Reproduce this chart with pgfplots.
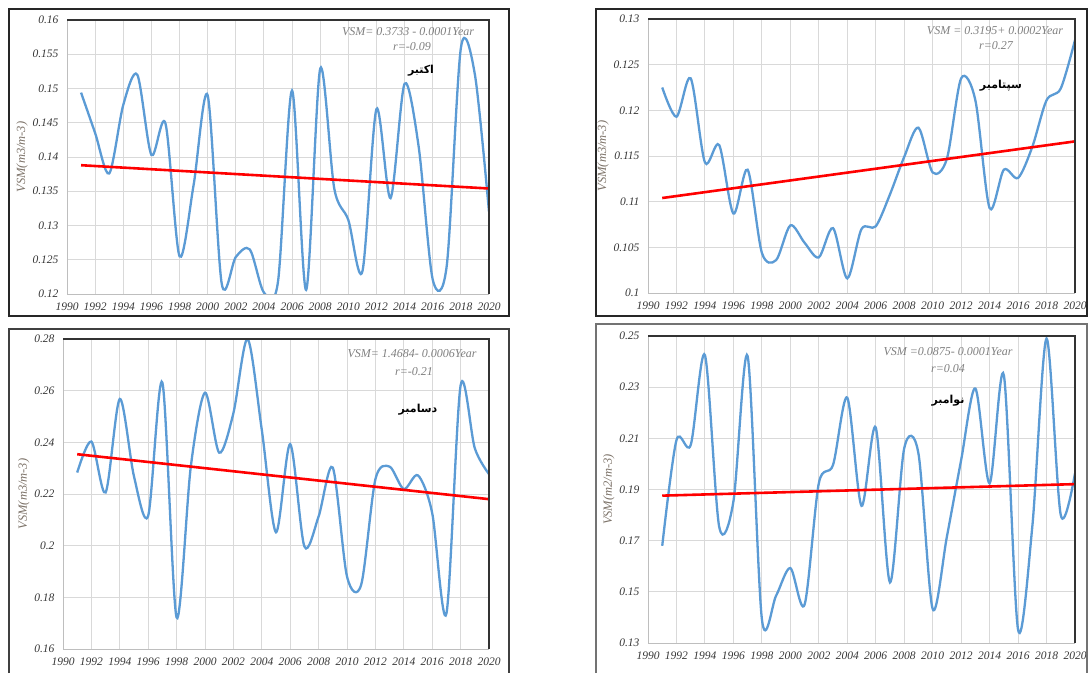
\documentclass[border=0pt]{standalone}
\usepackage{fontspec}
\setmainfont{Liberation Serif}
\newfontfamily\arabicfont[Script=Arabic]{DejaVu Sans}
\TeXXeTstate=1
\usepackage{pgfplots}
\pgfplotsset{compat=1.18}
\definecolor{gridc}{RGB}{217,217,217}
\definecolor{tickc}{RGB}{55,55,55}
\definecolor{labc}{RGB}{125,115,105}
\definecolor{annc}{RGB}{128,128,128}
\definecolor{bluec}{RGB}{91,155,213}
\definecolor{redc}{RGB}{255,0,0}
\pgfplotsset{panel/.style={
  scale only axis, xmin=1990, xmax=2020, xtick={1990,1992,...,2020},
  grid=major, major grid style={draw=gridc, line width=0.9pt},
  axis line style={draw=none}, tick style={draw=none},
  ticklabel style={font=\itshape\fontsize{11.5}{13}\selectfont, text=tickc},
  /pgf/number format/assume math mode=true,
  /pgf/number format/1000 sep={},
  yticklabel style={/pgf/number format/fixed, /pgf/number format/precision=3, xshift=-5pt},
  xticklabel style={/pgf/number format/1000 sep={}, yshift=-5pt},
  ylabel={VSM(m3/m-3)},
  ylabel style={font=\itshape\fontsize{12.5}{14}\selectfont, text=labc, yshift=-2pt},
  anchor=south west,
}}
\pgfplotsset{vsm/.style={color=bluec, line width=2.3pt, smooth, tension=0.5, no marks},
  trend/.style={color=redc, line width=2.6pt, no marks}}
\newcommand{\ann}{\itshape\fontsize{12}{14}\selectfont\color{annc}}
\newcommand{\mon}[1]{\arabicfont\bfseries\fontsize{11}{13}\selectfont\beginR #1\endR}
\begin{document}
\begin{tikzpicture}
\useasboundingbox[fill=white] (0pt,0pt) rectangle (1089pt,673pt);
% Panel 1: October
\begin{axis}[panel, name=a1, at={(67pt,379pt)}, width=422pt, height=274pt,
  ymin=0.12, ymax=0.16, ytick={0.12,0.125,0.13,0.135,0.14,0.145,0.15,0.155,0.16}]
\addplot[vsm] coordinates {(1991,0.1494)(1992,0.1435)(1993,0.1376)(1994,0.1476)(1995,0.1520)(1996,0.1403)(1997,0.1449)(1998,0.1255)(1999,0.1359)(2000,0.1490)(2001,0.1215)(2002,0.1254)(2003,0.1265)(2004,0.1202)(2005,0.1218)(2006,0.1497)(2007,0.1206)(2008,0.1529)(2009,0.1354)(2010,0.1308)(2011,0.1233)(2012,0.1470)(2013,0.1340)(2014,0.1507)(2015,0.1415)(2016,0.1221)(2017,0.1242)(2018,0.1559)(2019,0.1520)(2020,0.1320)};
\addplot[trend] coordinates {(1991,0.1388)(2020,0.1354)};
\end{axis}
% Panel 2: September
\begin{axis}[panel, name=a2, at={(648pt,380pt)}, width=427pt, height=274pt,
  ymin=0.1, ymax=0.13, ytick={0.1,0.105,0.11,0.115,0.12,0.125,0.13}]
\addplot[vsm] coordinates {(1991,0.1225)(1992,0.1193)(1993,0.1235)(1994,0.1143)(1995,0.1162)(1996,0.1087)(1997,0.1135)(1998,0.1044)(1999,0.1036)(2000,0.1074)(2001,0.1055)(2002,0.1039)(2003,0.1071)(2004,0.1016)(2005,0.1070)(2006,0.1073)(2007,0.1108)(2008,0.1149)(2009,0.1181)(2010,0.1132)(2011,0.1147)(2012,0.1235)(2013,0.1211)(2014,0.1093)(2015,0.1135)(2016,0.1126)(2017,0.1160)(2018,0.1211)(2019,0.1224)(2020,0.1277)};
\addplot[trend] coordinates {(1991,0.1104)(2020,0.1166)};
\end{axis}
% Panel 3: December
\begin{axis}[panel, name=a3, at={(63pt,24pt)}, width=426pt, height=310pt,
  ymin=0.16, ymax=0.28, ytick={0.16,0.18,0.2,0.22,0.24,0.26,0.28}]
\addplot[vsm] coordinates {(1991,0.2283)(1992,0.2403)(1993,0.2206)(1994,0.2568)(1995,0.2268)(1996,0.2116)(1997,0.2631)(1998,0.1722)(1999,0.2306)(2000,0.2592)(2001,0.2360)(2002,0.2513)(2003,0.2800)(2004,0.2448)(2005,0.2052)(2006,0.2393)(2007,0.1997)(2008,0.2113)(2009,0.2302)(2010,0.1881)(2011,0.1849)(2012,0.2257)(2013,0.2306)(2014,0.2219)(2015,0.2272)(2016,0.2126)(2017,0.1737)(2018,0.2620)(2019,0.2377)(2020,0.2277)};
\addplot[trend] coordinates {(1991,0.2354)(2020,0.2180)};
\end{axis}
% Panel 4: November
\begin{axis}[panel, name=a4, at={(648pt,30pt)}, width=427pt, height=307pt,
  ymin=0.13, ymax=0.25, ytick={0.13,0.15,0.17,0.19,0.21,0.23,0.25},
  ylabel={VSM(m2/m-3)}]
\addplot[vsm] coordinates {(1991,0.1680)(1992,0.2093)(1993,0.2074)(1994,0.2425)(1995,0.1755)(1996,0.1853)(1997,0.2421)(1998,0.1394)(1999,0.1485)(2000,0.1593)(2001,0.1450)(2002,0.1924)(2003,0.1996)(2004,0.2259)(2005,0.1836)(2006,0.2142)(2007,0.1537)(2008,0.2061)(2009,0.2041)(2010,0.1433)(2011,0.1716)(2012,0.2015)(2013,0.2295)(2014,0.1924)(2015,0.2347)(2016,0.1352)(2017,0.1755)(2018,0.2490)(2019,0.1800)(2020,0.1963)};
\addplot[trend] coordinates {(1991,0.1876)(2020,0.1921)};
\end{axis}
% plot-area outlines
\foreach \a in {a1,a2,a3,a4}{
  \draw[gridc!70!gray, line width=0.9pt] (\a.north west) -- (\a.south west) -- (\a.south east);
  \draw[black!80, line width=1.1pt] (\a.north west) -- (\a.north east) -- (\a.south east);
}
% outer frames
\draw[black!85, line width=1.2pt] (9pt,357pt) rectangle (509pt,664pt);
\draw[black!85, line width=1.2pt] (596pt,357pt) rectangle (1087pt,664pt);
\draw[black!75, line width=1.2pt] (9pt,0pt) -- (9pt,344pt) -- (509pt,344pt) -- (509pt,0pt);
\draw[black!55, line width=1.2pt] (596pt,0pt) -- (596pt,349pt) -- (1087pt,349pt) -- (1087pt,0pt);
% annotations
\node[font=\ann] at (408pt,641pt) {VSM= 0.3733 - 0.0001Year};
\node[font=\ann] at (412pt,626pt) {r=-0.09};
\node at (421pt,602pt) {\mon{اکتبر}};
\node[font=\ann] at (995pt,642pt) {VSM = 0.3195+ 0.0002Year};
\node[font=\ann] at (996pt,627pt) {r=0.27};
\node at (1001pt,587pt) {\mon{سپتامبر}};
\node[font=\ann] at (412pt,319pt) {VSM= 1.4684- 0.0006Year};
\node[font=\ann] at (414pt,301pt) {r=-0.21};
\node at (418pt,263pt) {\mon{دسامبر}};
\node[font=\ann] at (948pt,321pt) {VSM =0.0875- 0.0001Year};
\node[font=\ann] at (948pt,304pt) {r=0.04};
\node at (948pt,272pt) {\mon{نوامبر}};
\end{tikzpicture}
\end{document}
